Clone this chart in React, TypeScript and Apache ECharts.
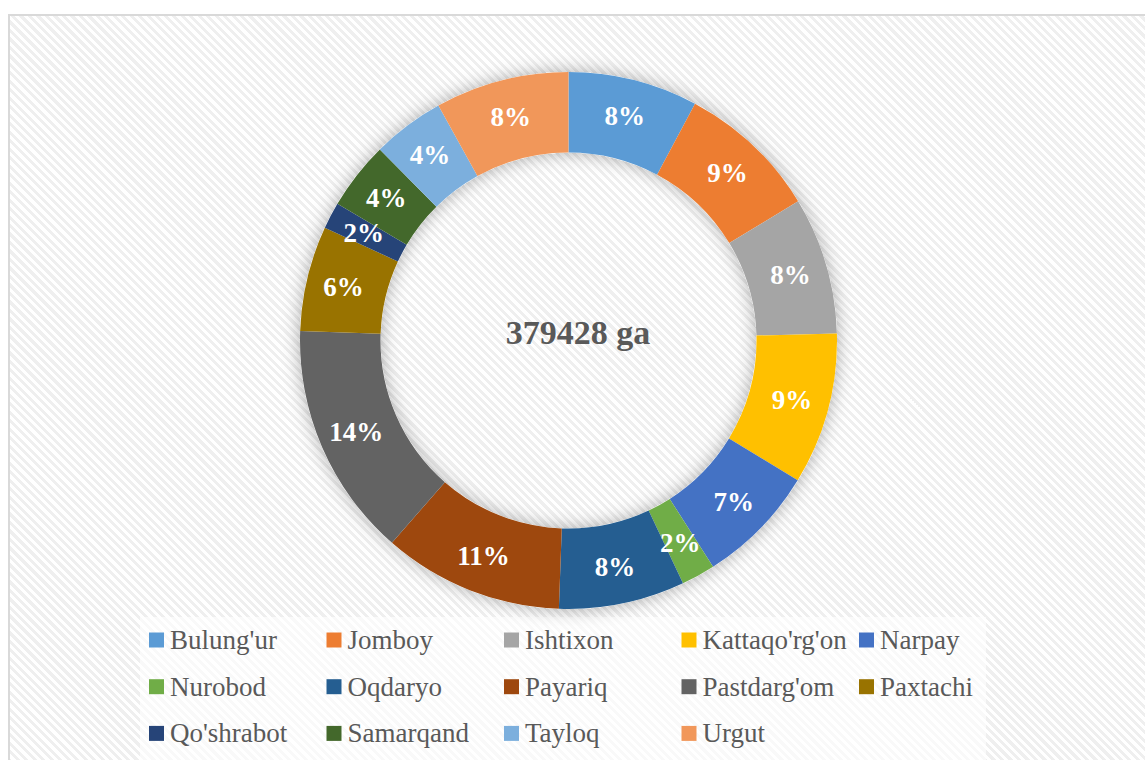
import React, { useEffect, useRef } from "react";
import * as echarts from "echarts";

const categories = [
  "Bulung'ur", "Jomboy", "Ishtixon", "Kattaqo'rg'on", "Narpay",
  "Nurobod", "Oqdaryo", "Payariq", "Pastdarg'om", "Paxtachi",
  "Qo'shrabot", "Samarqand", "Tayloq", "Urgut",
];
const areaGa = [
  29633, 32327, 31303, 34680, 27433,
  7740, 28761, 41168, 53688, 24018,
  6071, 15557, 16505, 30544,
];
const unitLabel = "ga";

const palette = [
  "#5B9BD5", "#ED7D31", "#A5A5A5", "#FFC000", "#4472C4",
  "#70AD47", "#255E91", "#9E480E", "#636363", "#997300",
  "#264478", "#43682B", "#7CAFDD", "#F1975A",
];

const SERIF = "Liberation Serif";

export default function App() {
  const ref = useRef<HTMLDivElement>(null);

  useEffect(() => {
    if (!ref.current) return;
    const chart = echarts.init(ref.current, undefined, { renderer: "svg" });
    const total = areaGa.reduce((a, b) => a + b, 0);
    const cx = 568.5;
    const cy = 340.5;
    const colX = [149, 326.5, 504, 681.5, 859];
    const legends = colX.map((x, col) => ({
      orient: "vertical",
      left: x,
      top: 625,
      padding: 0,
      itemWidth: 15,
      itemHeight: 15,
      itemGap: 16.7,
      icon: "rect",
      selectedMode: false,
      data: categories.filter((_, i) => i % 5 === col),
      textStyle: {
        fontFamily: SERIF,
        fontSize: 27,
        color: "#595959",
        lineHeight: 30,
        padding: [0, 0, 0, 1],
      },
    }));

    chart.setOption({
      animation: false,
      backgroundColor: "transparent",
      color: palette,
      legend: legends,
      graphic: [
        {
          type: "rect",
          z: -10,
          silent: true,
          shape: { x: 140, y: 617, width: 846, height: 160 },
          style: { fill: "rgba(255,255,255,0.6)" },
        },
        {
          type: "text",
          z: 10,
          silent: true,
          x: 578,
          y: 332,
          style: {
            text: `${total} ${unitLabel}`,
            fontFamily: SERIF,
            fontWeight: "bold",
            fontSize: 34,
            fill: "#595959",
            textAlign: "center",
            textVerticalAlign: "middle",
          },
        },
      ],
      series: [
        {
          type: "pie",
          name: "shadow",
          silent: true,
          center: [cx, cy],
          radius: [188, 268.5],
          z: 1,
          label: { show: false },
          labelLine: { show: false },
          itemStyle: {
            color: "#ffffff",
            shadowBlur: 18,
            shadowColor: "rgba(0,0,0,0.32)",
          },
          data: [{ name: "__bg", value: 1 }],
        },
        {
          type: "pie",
          name: "Area",
          center: [cx, cy],
          radius: [188, 268.5],
          startAngle: 90,
          clockwise: true,
          z: 2,
          avoidLabelOverlap: false,
          itemStyle: { borderWidth: 0 },
          label: {
            show: true,
            position: "inside",
            formatter: (p: any) => `${Math.round(p.percent)}%`,
            color: "#ffffff",
            fontFamily: SERIF,
            fontWeight: "bold",
            fontSize: 27,
          },
          labelLine: { show: false },
          data: categories.map((name, i) => ({ name, value: areaGa[i] })),
        },
      ],
    });
    return () => chart.dispose();
  }, []);

  return (
    <div
      style={{
        position: "fixed",
        left: 0,
        top: 0,
        width: "100vw",
        height: "100vh",
        overflow: "hidden",
        background: "#ffffff",
      }}
    >
      <div
        style={{
          position: "absolute",
          left: 8,
          top: 14,
          width: 1160,
          height: 780,
          boxSizing: "border-box",
          border: "2px solid #d9d9d9",
          backgroundColor: "#ffffff",
          backgroundImage:
            "repeating-linear-gradient(45deg, #ffffff 0px, #ffffff 3px, #efefef 3px, #efefef 6px)",
        }}
      />
      <div
        ref={ref}
        style={{ position: "absolute", left: 0, top: 0, width: 1145, height: 760 }}
      />
    </div>
  );
}
